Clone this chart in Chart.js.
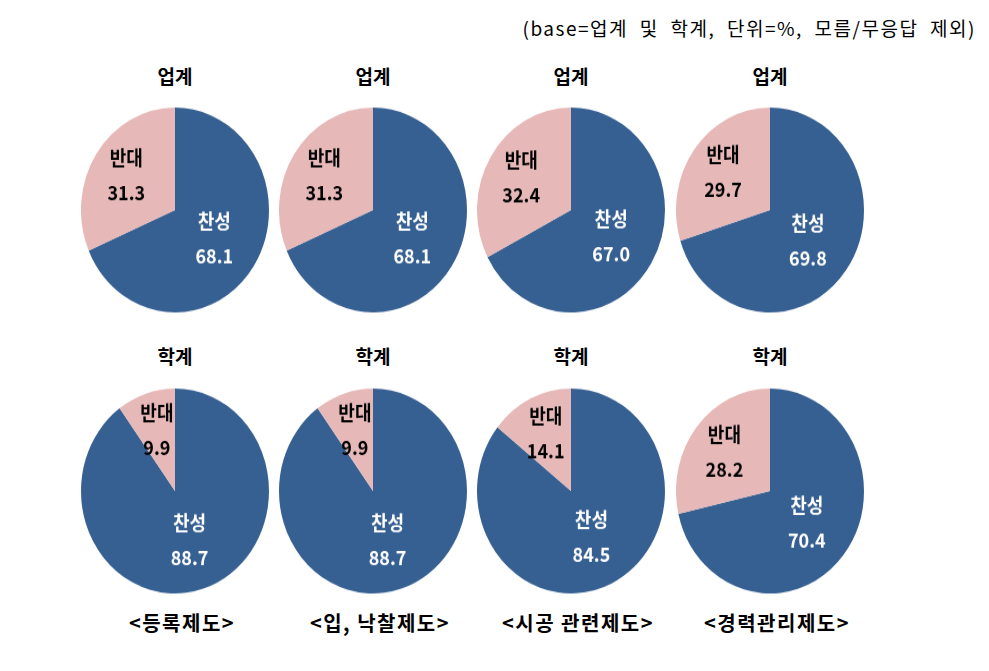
<!DOCTYPE html>
<html>
<head>
<meta charset="utf-8">
<script src="https://cdn.jsdelivr.net/npm/chart.js@4"></script>
<style>
    body { margin: 0; background: #fff; }
    #wrap { position: relative; width: 989px; height: 671px; font-family: "Noto Sans CJK KR", sans-serif; }
    .note { position: absolute; right: 13px; top: 14px; font-size: 19px; color: #000; letter-spacing: 1.5px; word-spacing: 6px; }
    .title { position: absolute; width: 160px; margin-left: -80px; text-align: center; font-weight: bold; font-size: 19px; }
    .group { position: absolute; width: 240px; margin-left: -120px; text-align: center; font-weight: bold; font-size: 20px; letter-spacing: 1.5px; }
    canvas { position: absolute; transform: scaleY(1.09); transform-origin: center center; }
</style>
</head>
<body>
<div id="wrap">
    <div class="note">(base=업계 및 학계, 단위=%, 모름/무응답 제외)</div>
</div>
<script>
// 데이터
var groups = ['<등록제도>', '<입, 낙찰제도>', '<시공 관련제도>', '<경력관리제도>'];
var rowTitles = ['업계', '학계'];
var sliceLabels = ['찬성', '반대'];
var industryYes = [68.1, 68.1, 67.0, 69.8];
var industryNo = [31.3, 31.3, 32.4, 29.7];
var academiaYes = [88.7, 88.7, 84.5, 70.4];
var academiaNo = [9.9, 9.9, 14.1, 28.2];

var colors = ['#376092', '#E6B9B8'];
var textColors = ['#ffffff', '#000000'];

// 배치
var colX = [175, 373, 571, 770];
var rowY = [210, 491];
var titleY = [62, 342];
var size = 188;

/**
 * 조각 안의 라벨
 */
var sliceText = {
    id: 'sliceText',
    afterDatasetsDraw: function (chart) {
        var ctx = chart.ctx;
        var meta = chart.getDatasetMeta(0);
        var values = chart.data.datasets[0].data;
        ctx.save();
        ctx.textAlign = 'center';
        ctx.textBaseline = 'middle';
        meta.data.forEach(function (arc, i) {
            var p = arc.getProps(['x', 'y', 'startAngle', 'endAngle', 'outerRadius'], true);
            var mid = (p.startAngle + p.endAngle) / 2;
            var r = p.outerRadius * (i === 0 ? 0.5 : 0.62);
            var x = p.x + Math.cos(mid) * r;
            var y = p.y + Math.sin(mid) * r;
            ctx.fillStyle = textColors[i];
            ctx.font = 'bold 18px "Noto Sans CJK KR"';
            ctx.fillText(chart.data.labels[i], x, y - 16);
            ctx.font = 'bold 18px "Noto Sans CJK KR"';
            ctx.fillText(values[i].toFixed(1), x, y + 16);
        });
        ctx.restore();
    }
};

var wrap = document.getElementById('wrap');

function addText(cls, text, x, y) {
    var d = document.createElement('div');
    d.className = cls;
    d.textContent = text;
    d.style.left = x + 'px';
    d.style.top = y + 'px';
    wrap.appendChild(d);
}

function makePie(yes, no, x, y) {
    var cv = document.createElement('canvas');
    cv.width = size;
    cv.height = size;
    cv.style.left = (x - size / 2) + 'px';
    cv.style.top = (y - size / 2) + 'px';
    wrap.appendChild(cv);
    new Chart(cv.getContext('2d'), {
        type: 'pie',
        data: {
            labels: sliceLabels,
            datasets: [{
                data: [yes, no],
                backgroundColor: colors,
                borderWidth: 0
            }]
        },
        options: {
            responsive: false,
            animation: false,
            layout: { padding: 0 },
            plugins: {
                legend: { display: false },
                tooltip: { enabled: false }
            }
        },
        plugins: [sliceText]
    });
}

for (var i = 0; i < groups.length; i++) {
    addText('title', rowTitles[0], colX[i], titleY[0]);
    addText('title', rowTitles[1], colX[i], titleY[1]);
    makePie(industryYes[i], industryNo[i], colX[i], rowY[0]);
    makePie(academiaYes[i], academiaNo[i], colX[i], rowY[1]);
    addText('group', groups[i], colX[i] + 7, 608);
}
</script>
</body>
</html>
